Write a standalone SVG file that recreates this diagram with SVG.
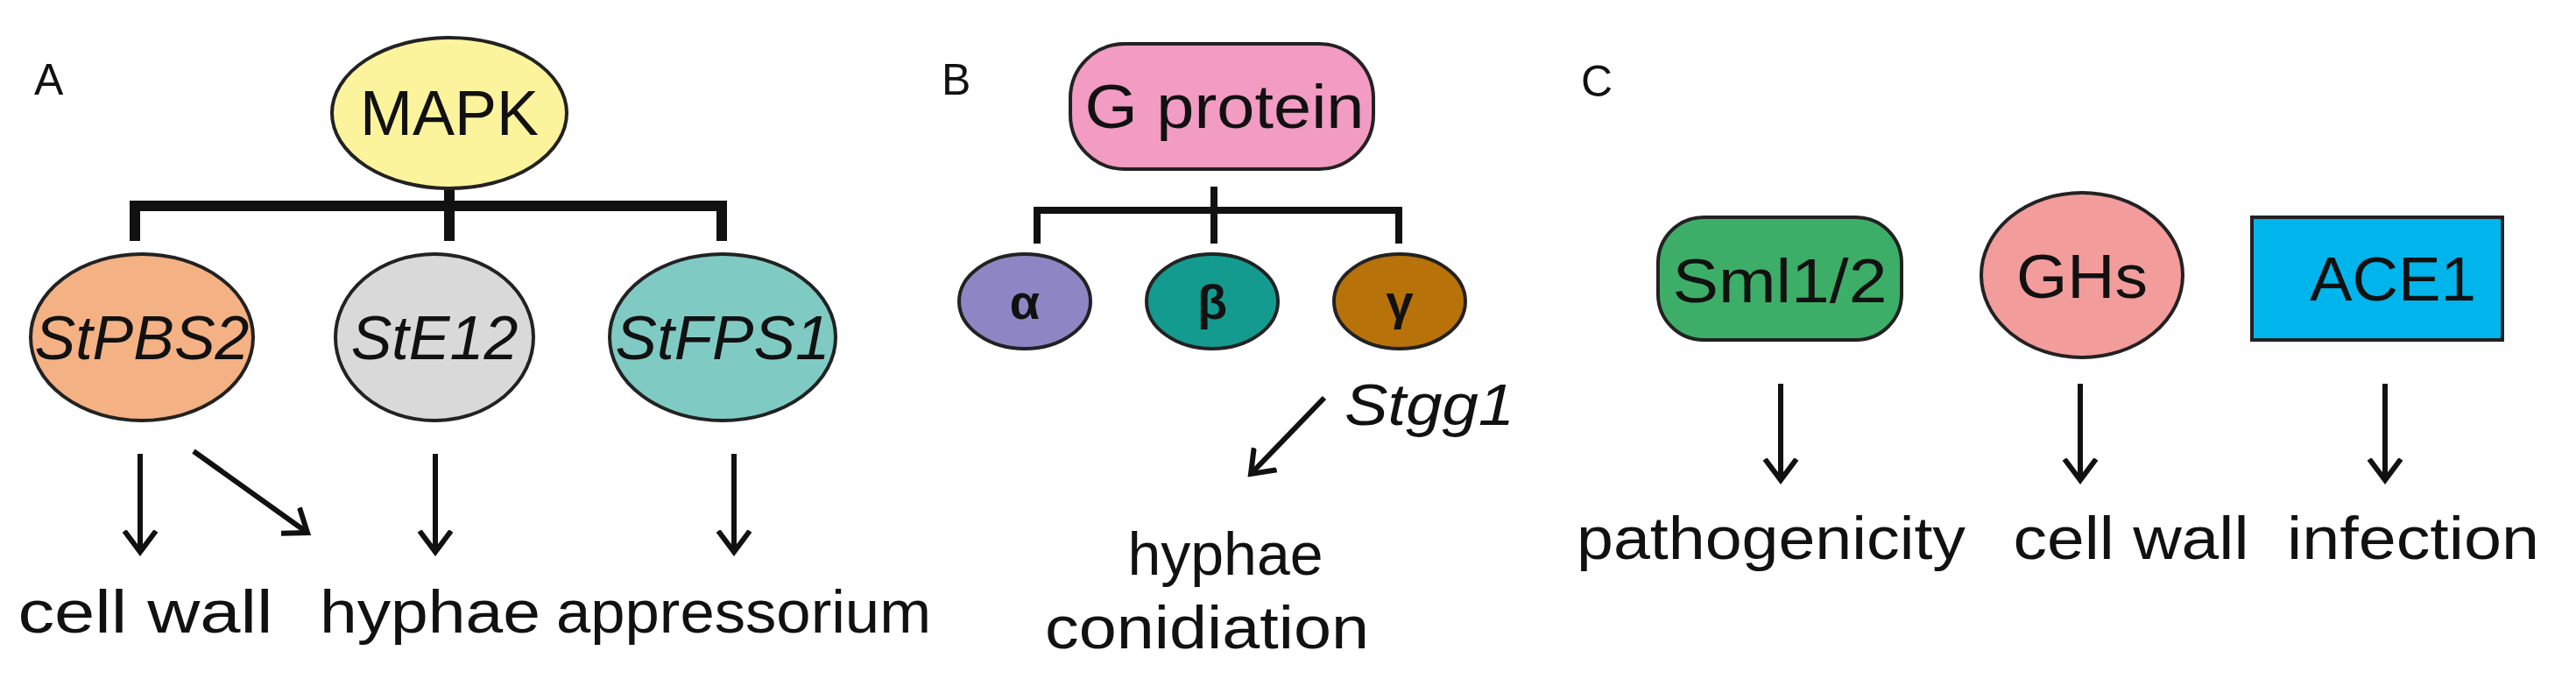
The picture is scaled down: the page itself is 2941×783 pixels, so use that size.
<svg xmlns="http://www.w3.org/2000/svg" width="2941" height="783" viewBox="0 0 2941 783">
<style>
text{font-family:"Liberation Sans",Arial,sans-serif;fill:#111}
.n{stroke:#222;stroke-width:4}
.lbl{font-size:68px;text-anchor:middle}
.gene{font-size:70px;font-style:italic;text-anchor:middle}
.pan{font-size:50px}
.br{stroke:#111;fill:none;stroke-linecap:butt}
.ar{stroke:#111;stroke-width:6;fill:none;marker-end:url(#ah)}
</style>
<defs>
<marker id="ah" markerUnits="userSpaceOnUse" markerWidth="50" markerHeight="50" viewBox="-25 -25 50 50" refX="0" refY="0" orient="auto">
<path d="M-24,-18 L0,0 L-24,18" fill="none" stroke="#111" stroke-width="6"/>
</marker>
</defs>
<text class="pan" x="39" y="108">A</text>
<text class="pan" x="1075" y="108">B</text>
<text class="pan" x="1805" y="110">C</text>
<g id="connectors">
<path class="br" stroke-width="12" d="M154,275 V235 H824 V275 M513,216 V275"/>
<path class="br" stroke-width="8" d="M1184,278 V240 H1597 V278 M1386,213 V278"/>
<line class="ar" x1="160" y1="518" x2="160" y2="630"/>
<line class="ar" x1="221" y1="515" x2="351" y2="608"/>
<line class="ar" x1="497" y1="518" x2="497" y2="630"/>
<line class="ar" x1="838" y1="518" x2="838" y2="630"/>
<line class="ar" x1="1512" y1="454" x2="1428" y2="541"/>
<line class="ar" x1="2033" y1="438" x2="2033" y2="548"/>
<line class="ar" x1="2375" y1="438" x2="2375" y2="548"/>
<line class="ar" x1="2723" y1="438" x2="2723" y2="548"/>
</g>
<g id="mapk"><ellipse class="n" cx="513" cy="129" rx="134" ry="86" fill="#FBF49C"/><text x="513" y="154" font-size="72" text-anchor="middle">MAPK</text></g>
<g id="stpbs2"><ellipse class="n" cx="162" cy="385" rx="127" ry="95" fill="#F4B183"/><text class="gene" x="162" y="410" textLength="245" lengthAdjust="spacingAndGlyphs">StPBS2</text></g>
<g id="ste12"><ellipse class="n" cx="496" cy="385" rx="113" ry="95" fill="#D9D9D9"/><text class="gene" x="496" y="410">StE12</text></g>
<g id="stfps1"><ellipse class="n" cx="825" cy="385" rx="129" ry="95" fill="#7FCBC4"/><text class="gene" x="825" y="410" textLength="245" lengthAdjust="spacingAndGlyphs">StFPS1</text></g>
<g id="l-cellwall"><text class="lbl" x="166" y="722" textLength="291" lengthAdjust="spacingAndGlyphs">cell wall</text></g>
<g id="l-hyphae"><text class="lbl" x="491" y="722" textLength="252" lengthAdjust="spacingAndGlyphs">hyphae</text></g>
<g id="l-appressorium"><text class="lbl" x="849" y="722" textLength="428" lengthAdjust="spacingAndGlyphs">appressorium</text></g>
<g id="gprotein"><rect class="n" x="1222" y="50" width="346" height="143" rx="62" fill="#F29BC3"/><text x="1398" y="146" font-size="70" text-anchor="middle" textLength="319" lengthAdjust="spacingAndGlyphs">G protein</text></g>
<g id="alpha"><ellipse class="n" cx="1170" cy="344" rx="75" ry="54" fill="#8E86C4"/><text x="1170" y="364" font-size="56" font-weight="bold" text-anchor="middle">α</text></g>
<g id="beta"><ellipse class="n" cx="1384" cy="344" rx="75" ry="54" fill="#139B90"/><text x="1384" y="364" font-size="56" font-weight="bold" text-anchor="middle">β</text></g>
<g id="gamma"><ellipse class="n" cx="1598" cy="344" rx="75" ry="54" fill="#B8720A"/><text x="1598" y="364" font-size="56" font-weight="bold" text-anchor="middle">γ</text></g>
<g id="stgg1"><text x="1535" y="485" font-size="66" font-style="italic" textLength="194" lengthAdjust="spacingAndGlyphs">Stgg1</text></g>
<g id="l-hyphae-b"><text class="lbl" x="1399" y="656">hyphae</text><text class="lbl" x="1378" y="740" textLength="370" lengthAdjust="spacingAndGlyphs">conidiation</text></g>
<g id="sml"><rect class="n" x="1893" y="248" width="278" height="140" rx="52" fill="#3DAE68"/><text x="2032" y="345" font-size="70" text-anchor="middle" textLength="245" lengthAdjust="spacingAndGlyphs">Sml1/2</text></g>
<g id="ghs"><ellipse class="n" cx="2377" cy="314" rx="115" ry="94" fill="#F29C9C"/><text x="2377" y="340" font-size="70" text-anchor="middle" textLength="150" lengthAdjust="spacingAndGlyphs">GHs</text></g>
<g id="ace1"><rect class="n" x="2571" y="248" width="286" height="140" fill="#00B5EC"/><text x="2732" y="343" font-size="70" text-anchor="middle" textLength="190" lengthAdjust="spacingAndGlyphs">ACE1</text></g>
<g id="l-path"><text class="lbl" x="2022" y="638" textLength="444" lengthAdjust="spacingAndGlyphs">pathogenicity</text></g>
<g id="l-cw2"><text class="lbl" x="2433" y="638" textLength="269" lengthAdjust="spacingAndGlyphs">cell wall</text></g>
<g id="l-inf"><text class="lbl" x="2755" y="638" textLength="288" lengthAdjust="spacingAndGlyphs">infection</text></g>
</svg>
